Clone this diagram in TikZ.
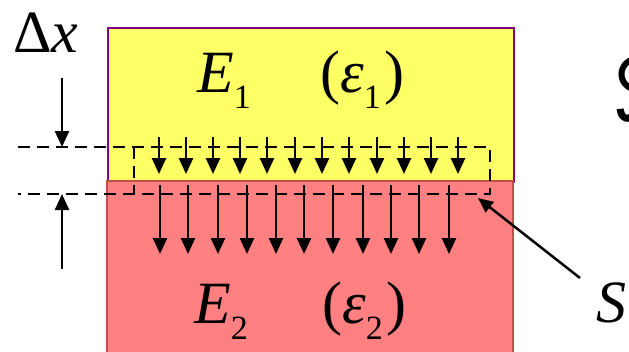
\documentclass[tikz,border=0pt]{standalone}
\usepackage{fontspec}
\usepackage{graphicx}
\setmainfont{Liberation Serif}
\newfontfamily\intfont{DejaVu Sans}
\usetikzlibrary{arrows.meta}
\definecolor{yel}{RGB}{255,255,102}
\definecolor{pnk}{RGB}{255,128,128}
\definecolor{pnkb}{RGB}{192,80,77}
\definecolor{purp}{RGB}{128,0,128}
\tikzset{
  big/.style={font=\fontsize{60}{60}\selectfont, inner sep=0pt, anchor=base west},
  dline/.style={line width=2.5pt, dash pattern=on 12pt off 7pt},
  fld/.style={line width=2.5pt, -{Triangle[length=16pt,width=14pt]}},
  ptr/.style={line width=2.5pt, -{Triangle[length=15pt,width=13pt]}},
}
\newcommand{\sbs}[1]{\raisebox{-16pt}{\fontsize{34}{34}\selectfont #1}}
\begin{document}
\begin{tikzpicture}[x=1pt,y=-1pt]
\useasboundingbox (0,0) rectangle (629,351);
\clip (0,0) rectangle (629,351);
% media
\draw[fill=yel, draw=purp, line width=2.5pt] (108,28) rectangle (514,182);
\draw[fill=pnk, draw=pnkb, line width=2pt] (107,181) rectangle (513,360);
% dashed surface box and reference lines
\draw[dline] (18,147) -- (490,147) -- (490,194) -- (18,194);
\draw[dline] (134,147) -- (134,194);
% field arrows in medium 1
\foreach \x in {159,186,213,240,267,295,322,349,377,404,431,458}
  \draw[fld] (\x,137) -- (\x,174);
% field arrows in medium 2
\foreach \x in {160,188,218,247,276,304,333,363,391,419,449}
  \draw[fld] (\x,185) -- (\x,254);
% Delta x arrows
\coordinate (dxa) at (62,78);
\coordinate (dxb) at (62,147);
\coordinate (dxc) at (62,269);
\coordinate (dxd) at (62,194);
\draw[fld] (dxa) -- (dxb);
\draw[fld] (dxc) -- (dxd);
% labels
\node[big] (dx) at (13,52) {Δ\textit{x}};
\node[big] (e1) at (197,92) {\textit{E}\sbs{1}};
\node[big] (eps1) at (320,92) {(\textit{ε}\sbs{1}\hspace{4pt})};
\node[big] (e2) at (194,323) {\textit{E}\sbs{2}};
\node[big] (eps2) at (322,323) {(\textit{ε}\sbs{2}\hspace{4pt})};
\node[big] (S) at (596,322) {\textit{S}};
\coordinate (Sp) at (580,278);
\coordinate (Sq) at (478,198);
\draw[ptr] (Sp) -- (Sq);
% closed integral, cut at the right edge
\node[inner sep=0pt, anchor=north west] (int) at (611,27) {\resizebox*{!}{95pt}{\intfont ∮}};
\end{tikzpicture}
\end{document}
